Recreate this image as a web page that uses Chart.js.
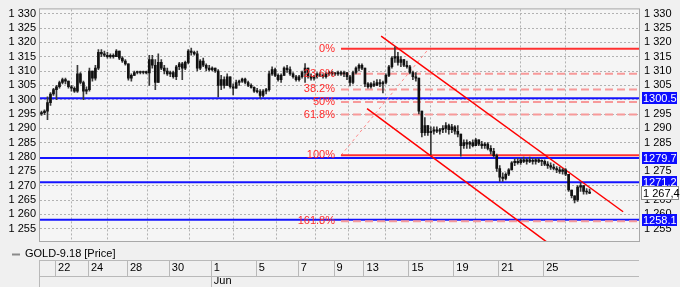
<!DOCTYPE html>
<html>
<head>
<meta charset="utf-8">
<script src="https://cdn.jsdelivr.net/npm/chart.js@4.4.0/dist/chart.umd.min.js"></script>
<style>
  html, body { margin: 0; padding: 0; background: #f0f0f0; }
  canvas { display: block; }
</style>
</head>
<body>
<canvas id="goldChart" width="680" height="287"></canvas>
<script>
// GOLD-9.18 intraday bars (one slot per bar)
var barOpen = [
  1295, 1295.5, 1296, 1299, 1302, 1303.5, 1304.5, 1306, 1307, 1306.5,
  1304.5, 1304, 1303, 1309, 1306, 1303, 1303.5, 1310, 1307.5, 1311,
  1316.5, 1316, 1315.5, 1315, 1315.5, 1315, 1317, 1314.5, 1313.5, 1312.5,
  1307.5, 1308.5, 1309.5, 1309.5, 1309.5, 1309.8, 1309.3, 1314, 1312, 1306,
  1313, 1311, 1310, 1309, 1309.5, 1308, 1311.5, 1312.5, 1311, 1313,
  1317, 1316.5, 1316, 1311, 1313.5, 1312, 1311, 1310.5, 1311, 1310,
  1305, 1307, 1305, 1308, 1304.5, 1304, 1306, 1306.5, 1307.2, 1306,
  1305, 1304.3, 1303, 1302.8, 1301.5, 1303, 1303.5, 1309, 1310.5, 1308.5,
  1307, 1308.5, 1311, 1310.5, 1309, 1308, 1307, 1308, 1309.5, 1311,
  1308, 1307.5, 1308, 1309, 1308.5, 1308, 1309, 1309.5, 1309, 1309,
  1309.5, 1309, 1309.5, 1308, 1306, 1309.5, 1311, 1312, 1311, 1305.5,
  1304.5, 1305.5, 1305, 1306, 1305.5, 1306, 1308.5, 1311.5, 1314.5, 1315,
  1313, 1314, 1312, 1311.5, 1309.5, 1308, 1307.5, 1296, 1288.5, 1291,
  1288.5, 1289, 1289.5, 1289, 1289.5, 1290, 1291, 1289.5, 1290.5, 1289,
  1288, 1284, 1285, 1284.5, 1285, 1284, 1286, 1284.5, 1284, 1284.5,
  1283, 1282, 1280.5, 1276, 1273, 1272.5, 1274, 1275.5, 1278, 1278.5,
  1278, 1279, 1278.5, 1279, 1278.5, 1278.5, 1279, 1278.5, 1278.5, 1277.5,
  1277, 1276.5, 1276, 1275.5, 1275, 1275.5, 1274, 1268.5, 1266.5, 1265,
  1269.5, 1270, 1268, 1267.8
];
var barHigh = [
  1296, 1296.5, 1301, 1302.5, 1304, 1305, 1306.5, 1307.5, 1307.5, 1306.5,
  1305, 1304.5, 1312, 1309.5, 1306.5, 1304.5, 1311, 1310, 1312, 1317.5,
  1317.5, 1317, 1316.5, 1316, 1316, 1317.5, 1317, 1315, 1314, 1312.5,
  1309, 1310, 1310, 1310, 1310, 1310, 1315.5, 1315.5, 1314, 1316,
  1314, 1312, 1311, 1310, 1310, 1312, 1313, 1313, 1313.5, 1317.5,
  1318, 1317, 1317, 1314, 1314.5, 1312.5, 1312, 1311.5, 1311, 1310.5,
  1308.5, 1308, 1309, 1308, 1305.5, 1306.8, 1306.8, 1307.5, 1307.5, 1306.5,
  1305.5, 1304.5, 1304, 1303.5, 1303.5, 1304, 1310, 1311.5, 1311, 1309,
  1309, 1311.5, 1312, 1311.5, 1309.5, 1308.5, 1308.5, 1310, 1312.6, 1311,
  1309, 1308.5, 1309.5, 1309.5, 1309, 1309.5, 1310, 1310, 1309.5, 1310,
  1310, 1310, 1309.5, 1308.5, 1310, 1311.5, 1312.5, 1312.5, 1311, 1306,
  1306, 1306.5, 1307, 1307, 1306.5, 1309, 1312, 1315, 1318.4, 1316.5,
  1315, 1314, 1313.5, 1312, 1310, 1309.5, 1307.5, 1296, 1293.8, 1291,
  1290.5, 1290.5, 1290.5, 1290, 1291, 1292, 1291.5, 1291.4, 1291, 1291,
  1288, 1286, 1286, 1285.5, 1286, 1286.5, 1286, 1285.5, 1285, 1285,
  1284, 1283, 1281, 1277, 1274.5, 1274.5, 1276, 1278.4, 1279.4, 1279.5,
  1279.5, 1280, 1279.5, 1280, 1279.5, 1279.5, 1279.5, 1279, 1279, 1278.4,
  1278, 1277.5, 1276.7, 1276.5, 1276, 1276, 1274, 1268.5, 1266.5, 1270,
  1271, 1270, 1269, 1268.8
];
var barLow = [
  1294.5, 1294.8, 1293, 1298, 1301.5, 1300, 1304, 1305.5, 1305.5, 1304,
  1303, 1302.5, 1302.5, 1305.5, 1300, 1302, 1303, 1306.5, 1306.8, 1310.5,
  1315, 1315, 1314.5, 1314.5, 1314.5, 1315, 1314, 1313, 1312, 1306.8,
  1306.5, 1308.5, 1309, 1309, 1309, 1309, 1305, 1311, 1303.5, 1306,
  1310.5, 1309, 1308.5, 1308, 1307.5, 1307, 1310.5, 1307, 1310.5, 1312.5,
  1315.5, 1315.5, 1310, 1310.5, 1311.5, 1310, 1310, 1310, 1309.5, 1301,
  1303.5, 1304, 1305, 1304, 1301.7, 1304, 1305, 1306, 1305.5, 1304.5,
  1304, 1302.5, 1302.4, 1300.5, 1301, 1302, 1303, 1308.5, 1308, 1306.5,
  1306, 1308.5, 1309.5, 1308.5, 1307.5, 1306.5, 1306.5, 1307.5, 1306, 1307.5,
  1306.8, 1306.8, 1307.5, 1308, 1307.5, 1307.5, 1308.5, 1308.5, 1308.5, 1308.5,
  1308.5, 1308, 1307, 1304.8, 1305.5, 1309, 1310, 1310.5, 1304.5, 1304,
  1304, 1304.5, 1305, 1304.5, 1302.4, 1305.5, 1308, 1311, 1313, 1312,
  1311.5, 1311.5, 1311, 1309, 1307, 1306.5, 1295, 1287, 1287.5, 1287.5,
  1280.8, 1288, 1288.5, 1288, 1288.5, 1288.6, 1288, 1288.5, 1288, 1287,
  1280.3, 1283, 1283, 1283, 1283.5, 1284, 1284, 1283, 1283, 1282.5,
  1281, 1280, 1275, 1271.5, 1271.5, 1272, 1273.5, 1275.5, 1277, 1277.5,
  1277.4, 1278, 1277.5, 1278, 1277.5, 1277.5, 1278, 1277, 1277, 1276,
  1275.7, 1275.5, 1274.5, 1274.3, 1274, 1273.5, 1268, 1265.7, 1264, 1264.5,
  1268, 1267, 1267, 1267.2
];
var barClose = [
  1295.5, 1296, 1299, 1302, 1303.5, 1304.5, 1306, 1307, 1306.5, 1304.5,
  1304, 1303, 1309, 1306, 1303, 1303.5, 1310, 1307.5, 1311, 1316.5,
  1316, 1315.5, 1315, 1315.5, 1315, 1317, 1314.5, 1313.5, 1312.5, 1307.5,
  1308.5, 1309.5, 1309.5, 1309.5, 1309.8, 1309.3, 1314, 1312, 1306, 1313,
  1311, 1310, 1309, 1309.5, 1308, 1311.5, 1312.5, 1311, 1313, 1317,
  1316.5, 1316, 1311, 1313.5, 1312, 1311, 1310.5, 1311, 1310, 1305,
  1307, 1305, 1308, 1304.5, 1304, 1306, 1306.5, 1307.2, 1306, 1305,
  1304.3, 1303, 1302.8, 1301.5, 1303, 1303.5, 1309, 1310.5, 1308.5, 1307,
  1308.5, 1311, 1310.5, 1309, 1308, 1307, 1308, 1309.5, 1311, 1308,
  1307.5, 1308, 1309, 1308.5, 1308, 1309, 1309.5, 1309, 1309, 1309.5,
  1309, 1309.5, 1308, 1306, 1309.5, 1311, 1312, 1311, 1305.5, 1304.5,
  1305.5, 1305, 1306, 1305.5, 1306, 1308.5, 1311.5, 1314.5, 1315, 1313,
  1314, 1312, 1311.5, 1309.5, 1308, 1307.5, 1296, 1288.5, 1291, 1288.5,
  1289, 1289.5, 1289, 1289.5, 1290, 1291, 1289.5, 1290.5, 1289, 1288,
  1284, 1285, 1284.5, 1285, 1284, 1286, 1284.5, 1284, 1284.5, 1283,
  1282, 1280.5, 1276, 1273, 1272.5, 1274, 1275.5, 1278, 1278.5, 1278,
  1279, 1278.5, 1279, 1278.5, 1278.5, 1279, 1278.5, 1278.5, 1277.5, 1277,
  1276.5, 1276, 1275.5, 1275, 1275.5, 1274, 1268.5, 1266.5, 1265, 1269.5,
  1270, 1268, 1267.8, 1267.4
];

// date axis: label and the bar where that day starts
var dayLabels = ['22', '24', '28', '30', '1', '5', '7', '9', '13', '15', '19', '21', '25'];
var dayStartBar = [5, 16, 29, 43, 57, 72, 86, 98, 108, 123, 138, 153, 168];
var monthLabels = { '1': 'Jun' };

// price axis ticks
var priceTicks = [1255, 1260, 1265, 1270, 1275, 1280, 1285, 1290, 1295, 1300, 1305, 1310, 1315, 1320, 1325, 1330];

// horizontal levels (blue)
var levelValues = [1300.5, 1279.7, 1271.2, 1258.1];

// fibonacci retracement
var fibPercents = [0, 23.6, 38.2, 50, 61.8, 100, 161.8];
var fibHigh = 1317.8;
var fibLow = 1280.6;
var fibLowBar = 100;
var fibHighBar = 129.3;

// downward channel, two points each
var channelUpper = [{ x: 113.4, y: 1322.2 }, { x: 194.2, y: 1260.9 }];
var channelLower = [{ x: 108.7, y: 1296.9 }, { x: 172, y: 1247.8 }];

var xMin = -0.5, xMax = 199.5;
var yMin = 1250.7, yMax = 1331.5;
var FONT = "'Liberation Sans', Arial, sans-serif";

function fmtThousands(v) {
  return Math.floor(v / 1000) + ' ' + String(Math.round(v) % 1000).padStart(3, '0');
}
function fibValue(p) {
  return fibHigh - (fibHigh - fibLow) * p / 100;
}

var datasets = [];

levelValues.forEach(function (v) {
  datasets.push({
    type: 'line', data: [{ x: xMin, y: v }, { x: xMax, y: v }],
    borderColor: '#1414ff', borderWidth: 2, pointRadius: 0, order: 5, clip: 0
  });
});

fibPercents.forEach(function (p) {
  var solid = (p === 0 || p === 100);
  datasets.push({
    type: 'line', data: [{ x: fibLowBar, y: fibValue(p) }, { x: xMax, y: fibValue(p) }],
    borderColor: solid ? '#ff3030' : '#f79a9a', borderWidth: 2,
    borderDash: solid ? [] : [8, 4], pointRadius: 0, order: 4, clip: 0
  });
});

datasets.push({
  type: 'line', data: [{ x: fibLowBar, y: fibLow }, { x: fibHighBar, y: fibHigh }],
  borderColor: '#ff8a8a', borderWidth: 1, borderDash: [3, 3], pointRadius: 0, order: 4, clip: 0
});

[channelUpper, channelLower].forEach(function (pts) {
  datasets.push({
    type: 'line', data: pts, borderColor: '#ff0000', borderWidth: 1.5,
    pointRadius: 0, order: 3, clip: 0
  });
});

// wicks
datasets.push({
  type: 'bar',
  data: barHigh.map(function (h, i) { return { x: i, y: [barLow[i], h] }; }),
  backgroundColor: '#3a3a3a', barThickness: 1, grouped: false, order: 1
});
// bodies
datasets.push({
  type: 'bar',
  data: barOpen.map(function (o, i) { return { x: i, y: [o, barClose[i]] }; }),
  backgroundColor: '#111111', barThickness: 2, minBarLength: 1, grouped: false, order: 0
});

var decorPlugin = {
  id: 'decor',
  beforeDraw: function (chart) {
    var c = chart.ctx, a = chart.chartArea;
    c.save();
    c.fillStyle = '#f0f0f0';
    c.fillRect(0, 0, chart.width, chart.height);
    c.fillStyle = '#f5f5f5';
    c.fillRect(a.left, a.top, a.right - a.left, a.bottom - a.top);
    c.restore();
  },
  afterDatasetsDraw: function (chart) {
    var c = chart.ctx, a = chart.chartArea;
    var xs = chart.scales.x, ys = chart.scales.y;
    c.save();
    // fib labels
    c.font = '11px ' + FONT;
    c.fillStyle = '#ff2a2a';
    c.textAlign = 'right';
    c.textBaseline = 'middle';
    fibPercents.forEach(function (p) {
      c.fillText(p + '%', xs.getPixelForValue(fibLowBar) - 6, ys.getPixelForValue(fibValue(p)));
    });
    // frame
    c.strokeStyle = '#a8a8a8';
    c.lineWidth = 1;
    c.strokeRect(a.left - 0.5, a.top - 0.5, a.right - a.left + 1, a.bottom - a.top + 1);
    c.restore();
  },
  afterDraw: function (chart) {
    var c = chart.ctx, a = chart.chartArea;
    var xs = chart.scales.x, ys = chart.scales.y;
    c.save();
    c.font = '11px ' + FONT;
    c.textBaseline = 'middle';
    c.textAlign = 'left';
    // level tags on the right axis
    levelValues.forEach(function (v) {
      var y = Math.round(ys.getPixelForValue(v));
      c.fillStyle = '#0c0cff';
      c.fillRect(a.right + 3, y - 6, 35, 12);
      c.fillStyle = '#ffffff';
      c.fillText(v.toFixed(1), a.right + 4, y + 0.5);
    });
    // last price tag
    var last = barClose[barClose.length - 1];
    var ly = Math.round(ys.getPixelForValue(last));
    c.fillStyle = '#ffffff';
    c.fillRect(a.right + 2.5, ly - 6.5, 37, 13);
    c.strokeStyle = '#8c8c8c';
    c.strokeRect(a.right + 2.5, ly - 6.5, 37, 13);
    c.fillStyle = '#000000';
    c.fillText(fmtThousands(last) + ',' + String(last.toFixed(1)).split('.')[1], a.right + 4, ly + 0.5);

    // legend row
    c.strokeStyle = '#8a8a8a';
    c.lineWidth = 2;
    c.beginPath();
    c.moveTo(12, 254.5);
    c.lineTo(20, 254.5);
    c.stroke();
    c.fillStyle = '#000000';
    c.fillText('GOLD-9.18 [Price]', 25, 254);

    // date panel lines
    c.strokeStyle = '#b9b9b9';
    c.lineWidth = 1;
    c.beginPath();
    c.moveTo(a.left - 1, 260.5); c.lineTo(a.right, 260.5);
    c.moveTo(a.left - 1, 276.5); c.lineTo(a.right, 276.5);
    c.moveTo(a.left - 0.5, 260); c.lineTo(a.left - 0.5, 287);
    dayStartBar.forEach(function (b, i) {
      var px = Math.round(xs.getPixelForValue(b - 0.5)) + 0.5;
      c.moveTo(px, 261); c.lineTo(px, 276);
      if (monthLabels[dayLabels[i]]) { c.moveTo(px, 277); c.lineTo(px, 287); }
    });
    c.stroke();
    c.restore();
  }
};

var ctx = document.getElementById('goldChart').getContext('2d');
var goldChart = new Chart(ctx, {
  data: { datasets: datasets },
  options: {
    responsive: false,
    animation: false,
    devicePixelRatio: 1,
    layout: { padding: { top: 5, left: 0, right: 0, bottom: 0 } },
    plugins: { legend: { display: false }, tooltip: { enabled: false } },
    scales: {
      x: {
        type: 'linear', min: xMin, max: xMax, offset: false,
        afterBuildTicks: function (s) {
          s.ticks = dayStartBar.map(function (b) { return { value: b - 0.5 }; });
        },
        afterFit: function (s) { s.height = 46; },
        grid: { color: '#b2b2b2', drawTicks: false },
        border: { display: false, dash: [2, 2] },
        ticks: {
          autoSkip: false, maxRotation: 0, align: 'start', padding: 20, color: '#000',
          font: { family: FONT, size: 11, lineHeight: 1.2 },
          callback: function (v, i) {
            var d = dayLabels[i];
            return monthLabels[d] ? [' ' + d, ' ' + monthLabels[d]] : ' ' + d;
          }
        }
      },
      y: {
        position: 'left', min: yMin, max: yMax,
        afterBuildTicks: function (s) {
          s.ticks = priceTicks.map(function (v) { return { value: v }; });
        },
        afterFit: function (s) { s.width = 40; },
        grid: { color: '#b2b2b2', drawTicks: false },
        border: { display: false, dash: [2, 2] },
        ticks: {
          padding: 4, color: '#000', font: { family: FONT, size: 11, lineHeight: 0.8 },
          callback: function (v) { return fmtThousands(v); }
        }
      },
      y2: {
        position: 'right', min: yMin, max: yMax,
        afterBuildTicks: function (s) {
          s.ticks = priceTicks.map(function (v) { return { value: v }; });
        },
        afterFit: function (s) { s.width = 41; },
        grid: { display: false, drawTicks: false },
        border: { display: false },
        ticks: {
          padding: 5, color: '#000', font: { family: FONT, size: 11, lineHeight: 0.8 },
          callback: function (v) { return fmtThousands(v); }
        }
      }
    }
  },
  plugins: [decorPlugin]
});
</script>
</body>
</html>
